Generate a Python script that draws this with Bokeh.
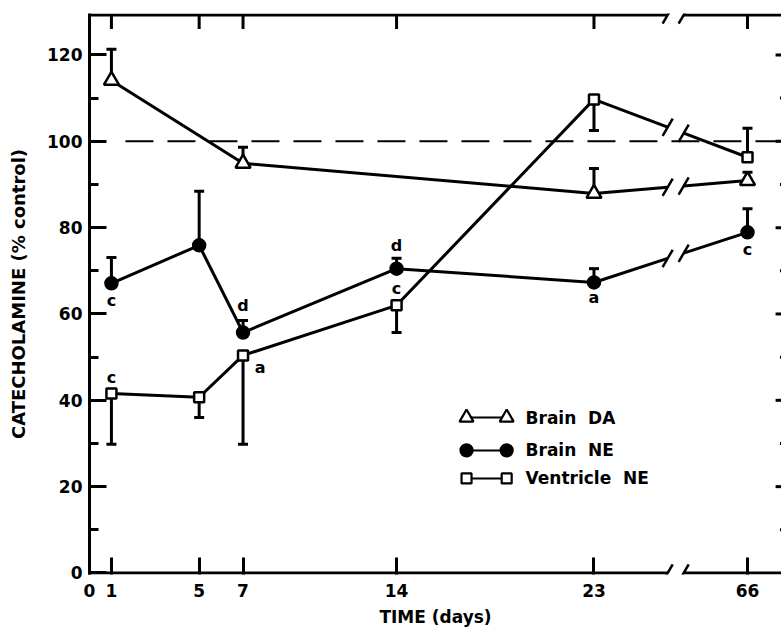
import numpy as np
from bokeh.plotting import figure
from bokeh.models import Range1d, FixedTicker, ColumnDataSource
from bokeh.core.properties import value
from bokeh.embed import file_html
from bokeh.resources import INLINE

# ---------------- data ----------------
da_days = [1, 7, 23, 66]
da_vals = [114.1, 94.9, 87.9, 90.9]
da_err = [7.2, 3.7, 5.8, 1.9]          # + = bar drawn upward

ne_days = [1, 5, 7, 14, 23, 66]
ne_vals = [67.1, 75.9, 55.7, 70.5, 67.3, 78.9]
ne_err = [6.0, 12.5, 2.8, 2.4, 3.2, 5.5]
ne_sig = ["c", "", "d", "d", "a", "c"]

ve_days = [1, 5, 7, 14, 23, 66]
ve_vals = [41.6, 40.7, 50.4, 62.0, 109.7, 96.3]
ve_err = [-11.8, -4.7, -20.6, -6.3, -7.2, 6.7]   # - = bar drawn downward
ve_sig = ["c", "", "a", "c", "", ""]

x_tick_days = [0, 1, 5, 7, 14, 23, 66]
y_ticks = [0, 20, 40, 60, 80, 100, 120]
y_minor = [10, 30, 50, 70, 90, 110]
control_level = 100

series_names = ["Brain\u00a0 DA", "Brain\u00a0 NE", "Ventricle\u00a0 NE"]

# ---------------- layout / style constants ----------------
FONT = "DejaVu Sans"
FS = "17px"
X_END = 31.55
Y_START, Y_END = -0.35, 129.6
BREAK_A, BREAK_B = 26.36, 27.09   # axis-break gap (plot units)
LATE_POS = 30.0                    # where day 66 sits after the break
SL_DX, SL_DY = 0.23, 2.0           # slash half extents
LW = 3


def pos(d):
    return float(d) if d <= 23 else LATE_POS


p = figure(width=781, height=632, output_backend="svg", toolbar_location=None,
           x_range=Range1d(0, X_END), y_range=Range1d(Y_START, Y_END),
           min_border_left=89, min_border_right=0, min_border_top=13,
           min_border_bottom=58)
p.outline_line_color = None
p.xgrid.grid_line_color = None
p.ygrid.grid_line_color = None
p.background_fill_color = "white"
p.border_fill_color = "white"

# left axis
ya = p.yaxis[0]
ya.ticker = FixedTicker(ticks=y_ticks, minor_ticks=y_minor)
ya.axis_line_width = LW
ya.axis_line_color = "black"
ya.major_tick_in = 17
ya.major_tick_out = 0
ya.major_tick_line_width = LW
ya.minor_tick_in = 9
ya.minor_tick_out = 0
ya.minor_tick_line_width = LW
ya.major_label_standoff = 7
ya.major_label_text_font = FONT
ya.major_label_text_font_size = FS
ya.major_label_text_font_style = "bold"
ya.major_label_text_color = "black"
ya.axis_label = "CATECHOLAMINE (% control)"
ya.axis_label_text_font = FONT
ya.axis_label_text_font_size = "18px"
ya.axis_label_text_font_style = "bold"
ya.axis_label_text_color = "black"
ya.axis_label_standoff = 15

# bottom axis
xa = p.xaxis[0]
xa.ticker = FixedTicker(ticks=[pos(d) for d in x_tick_days], minor_ticks=[])
xa.major_label_overrides = {pos(d): str(d) for d in x_tick_days}
xa.axis_line_color = None
xa.major_tick_in = 17
xa.major_tick_out = 0
xa.major_tick_line_width = LW
xa.minor_tick_in = 0
xa.minor_tick_out = 0
xa.major_label_standoff = 9
xa.major_label_text_font = FONT
xa.major_label_text_font_size = FS
xa.major_label_text_font_style = "bold"
xa.major_label_text_color = "black"
xa.axis_label = "TIME (days)"
xa.axis_label_text_font = FONT
xa.axis_label_text_font_size = FS
xa.axis_label_text_font_style = "bold"
xa.axis_label_text_color = "black"
xa.axis_label_standoff = 7

# spines with break (bottom and top)
top_y = Y_END - 0.35
for yy in [0.0, top_y]:
    p.segment(x0=[0, BREAK_B], y0=[yy, yy], x1=[BREAK_A, X_END], y1=[yy, yy],
              line_color="black", line_width=LW)
    p.segment(x0=[BREAK_A - SL_DX, BREAK_B - SL_DX], y0=[yy - SL_DY, yy - SL_DY],
              x1=[BREAK_A + SL_DX, BREAK_B + SL_DX], y1=[yy + SL_DY, yy + SL_DY],
              line_color="black", line_width=2.5)

# top inward ticks
top_ticks = [pos(d) for d in x_tick_days if d > 0]
p.segment(x0=top_ticks, y0=[top_y] * len(top_ticks), x1=top_ticks,
          y1=[Y_END - 3.6] * len(top_ticks), line_color="black", line_width=LW)

# right-side inward ticks (spine lies just outside the picture)
maj = [t for t in y_ticks if t > 0]
p.segment(x0=[31.28] * len(maj), y0=maj, x1=[X_END] * len(maj), y1=maj,
          line_color="black", line_width=LW)
p.segment(x0=[31.48] * len(y_minor), y0=y_minor, x1=[X_END] * len(y_minor), y1=y_minor,
          line_color="black", line_width=LW)

# control (100 %) dashed line
p.line(x=[1.64, X_END], y=[control_level, control_level], line_color="black",
       line_width=2, line_dash="28 14")


def draw_series(days, vals, errs):
    xs = [pos(d) for d in days]
    ends = [v + e for v, e in zip(vals, errs)]
    p.segment(x0=xs, y0=vals, x1=xs, y1=ends, line_color="black", line_width=LW)
    p.scatter(x=xs, y=ends, marker="dash", size=10, line_color="black", line_width=LW)
    early = [(x, v) for x, v, d in zip(xs, vals, days) if d <= 23]
    p.line(x=[e[0] for e in early], y=[e[1] for e in early], line_color="black", line_width=LW)
    x23, y23 = xs[-2], vals[-2]
    x66, y66 = xs[-1], vals[-1]
    slope = (y66 - y23) / (x66 - x23)
    ya_ = y23 + slope * (BREAK_A - x23)
    yb_ = y23 + slope * (BREAK_B - x23)
    p.segment(x0=[x23, BREAK_B], y0=[y23, yb_], x1=[BREAK_A, x66], y1=[ya_, y66],
              line_color="black", line_width=LW)
    p.segment(x0=[BREAK_A - SL_DX, BREAK_B - SL_DX], y0=[ya_ - SL_DY, yb_ - SL_DY],
              x1=[BREAK_A + SL_DX, BREAK_B + SL_DX], y1=[ya_ + SL_DY, yb_ + SL_DY],
              line_color="black", line_width=2.5)
    return xs


da_x = draw_series(da_days, da_vals, da_err)
ne_x = draw_series(ne_days, ne_vals, ne_err)
ve_x = draw_series(ve_days, ve_vals, ve_err)

# markers
p.scatter(x=da_x, y=da_vals, marker="triangle", size=15, fill_color="white",
          line_color="black", line_width=2.5)
p.scatter(x=ne_x, y=ne_vals, marker="circle", size=13, fill_color="black",
          line_color="black", line_width=1.5)
p.scatter(x=ve_x, y=ve_vals, marker="square", size=10, fill_color="white",
          line_color="black", line_width=2.5)

# significance letters
ne_off = [(0, 17), (0, 0), (0, -27), (0, -23), (0, 15), (0, 17)]
ve_off = [(0, -16), (0, 0), (17, 12), (0, -17), (0, 0), (0, 0)]
lx, ly, lt, lox, loy = [], [], [], [], []
for xs, vals, sig, off in [(ne_x, ne_vals, ne_sig, ne_off), (ve_x, ve_vals, ve_sig, ve_off)]:
    for x, v, s, o in zip(xs, vals, sig, off):
        if s:
            lx.append(x); ly.append(v); lt.append(s); lox.append(o[0]); loy.append(o[1])
src = ColumnDataSource(dict(x=lx, y=ly, t=lt, ox=lox, oy=loy))
p.text(x="x", y="y", text="t", x_offset="ox", y_offset="oy", source=src,
       text_font=value(FONT), text_font_size="16px", text_font_style="bold",
       text_align="center", text_baseline="middle", text_color="black")

# legend (drawn by hand: marker - line - marker, then label)
LEG_X0, LEG_X1, LEG_TX = 17.19, 19.02, 19.88
LEG_Y = [36.0, 28.4, 21.9]
leg_markers = [("triangle", 14, "white"), ("circle", 12, "black"), ("square", 10, "white")]
for (mk, sz, fc), yy in zip(leg_markers, LEG_Y):
    p.line(x=[LEG_X0, LEG_X1], y=[yy, yy], line_color="black", line_width=2)
    p.scatter(x=[LEG_X0, LEG_X1], y=[yy, yy], marker=mk, size=sz, fill_color=fc,
              line_color="black", line_width=2.2)
p.text(x=[LEG_TX] * 3, y=LEG_Y, text=series_names, text_font=value(FONT),
       text_font_size=FS, text_font_style="bold", text_align="left",
       text_baseline="middle", text_color="black")

open("out.html", "w").write(file_html(p, INLINE))
